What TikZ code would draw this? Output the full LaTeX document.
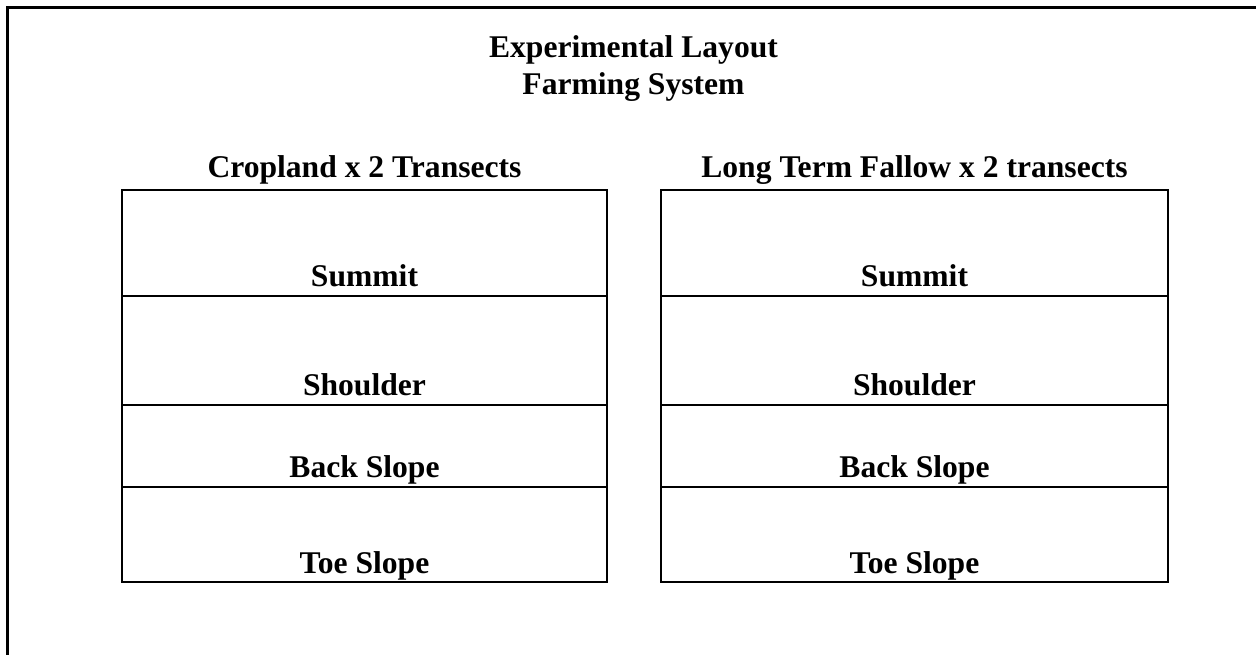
\documentclass[tikz,border=0pt]{standalone}
\usepackage{fontspec}
\setmainfont{Liberation Serif}
\begin{document}
\begin{tikzpicture}[x=0.75pt,y=-0.75pt,
  frameline/.style={line width=2.25pt, line cap=rect},
  cell/.style={draw, line width=1.5pt, rectangle, inner sep=0pt, outer sep=0pt},
  txt/.style={font=\bfseries\fontsize{23.7}{27}\selectfont, inner sep=0pt, anchor=base}]
  \useasboundingbox (0,0) rectangle (1256,655);
  % page frame: top and left edges
  \coordinate (fl) at (7.5,655);
  \coordinate (fc) at (7.5,7.5);
  \coordinate (fr) at (1256,7.5);
  \draw[frameline] (fl) -- (fc) -- (fr);
  % title
  \node[txt] (t1) at (633.5,58) {Experimental Layout};
  \node[txt] (t2) at (633.5,95) {Farming System};
  % column headings
  \node[txt] (h1) at (364.5,178) {Cropland x 2 Transects};
  \node[txt] (h2) at (914.5,178) {Long Term Fallow x 2 transects};
  % cells: rows from top to bottom
  \foreach \col/\xa/\xb in {L/122/607, R/661/1168}{
    \foreach \row/\ya/\yb/\lab in {1/190/296/Summit, 2/296/405/Shoulder, 3/405/487/Back Slope, 4/487/582/Toe Slope}{
      \node[cell, minimum width={(\xb-\xa)*0.75pt}, minimum height={(\yb-\ya)*0.75pt}]
        (c\col\row) at ({(\xa+\xb)/2},{(\ya+\yb)/2}) {};
      \node[txt] (l\col\row) at ([yshift=9*0.75pt]c\col\row.south) {\lab};
    }
  }
\end{tikzpicture}
\end{document}
